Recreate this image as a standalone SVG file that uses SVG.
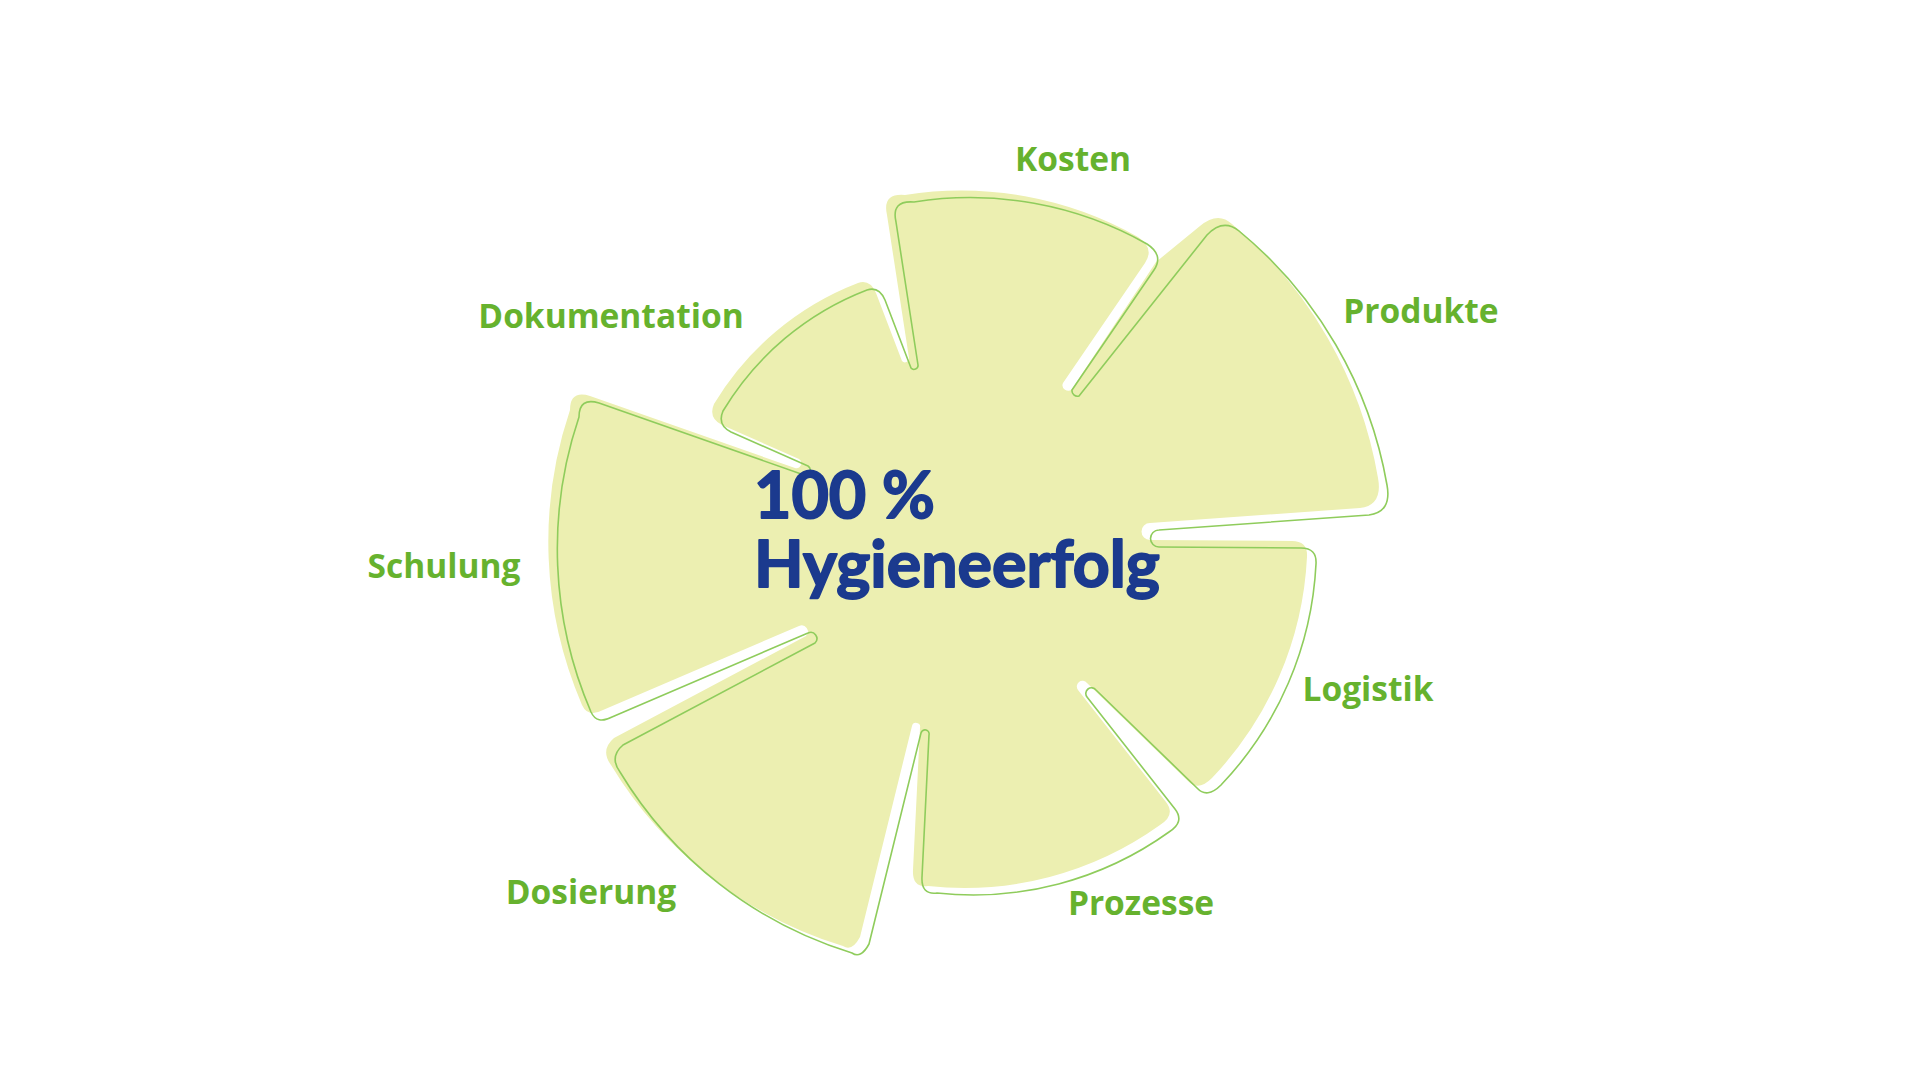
<svg xmlns="http://www.w3.org/2000/svg" xmlns:xlink="http://www.w3.org/1999/xlink" width="1920" height="1080" viewBox="0 0 1920 1080">
<style>
.petal{fill:#ecefb1;stroke:none}
.outline{fill:none;stroke:#8fcc5c;stroke-width:1.6;stroke-linejoin:round}
.lbl{font-family:"Open Sans","Liberation Sans",sans-serif;font-weight:700;font-size:33.5px;fill:#66b22e;text-anchor:middle}
.ctr{font-family:Lato,"Open Sans","Liberation Sans",sans-serif;font-weight:700;font-size:64.5px;fill:#1b3a8e;stroke:#1b3a8e;stroke-width:1.8;stroke-linejoin:round}
</style>
<rect x="0" y="0" width="1920" height="1080" fill="#ffffff"/>
<g id="flower">
<path class="petal" d="M 887,215 Q 882,193 905,195 A 360 360 0 0 1 1138,237 Q 1155,248 1145,263 L 1063,383 A 5.5 5.5 0 0 0 1072,389 L 1156,262 L 1200,226 Q 1218,211 1232,224 A 423 423 0 0 1 1378,478 Q 1383,505 1360,508 L 1150,523 A 8.5 8.5 0 0 0 1150,540 L 1292,541 Q 1308,541 1307,557 A 345 345 0 0 1 1212,778 Q 1198,792 1188,781 L 1087,683 A 5.7 5.7 0 0 0 1078,690 L 1166,802 Q 1176,815 1160,825 A 336 336 0 0 1 928,886 Q 912,888 913,870 L 920,728 A 4.1 4.1 0 0 0 912,726 L 860,937 Q 852,952 843,946 A 412 412 0 0 1 611,765 Q 600,750 614,738 L 806,636 A 6.2 6.2 0 0 0 799,626 L 603,710 Q 588,718 582,705 A 412 412 0 0 1 570,410 Q 570,390 590,396 L 795,468 A 5 5 0 0 0 799,459 L 722,425 Q 708,418 714,404 A 289 289 0 0 1 858,283 Q 870,279 876,293 L 902,361 A 4 4 0 0 0 909,358 Z"/>
<path class="outline" transform="translate(9,7)" d="M 887,215 Q 882,193 905,195 A 360 360 0 0 1 1138,237 Q 1155,248 1145,263 L 1063,383 A 5.5 5.5 0 0 0 1070,389 L 1198,228 Q 1214,211 1230,224 A 423 423 0 0 1 1378,478 Q 1383,505 1360,508 L 1150,523 A 8.5 8.5 0 0 0 1150,540 L 1292,541 Q 1308,541 1307,557 A 345 345 0 0 1 1212,778 Q 1198,792 1188,781 L 1087,683 A 5.7 5.7 0 0 0 1078,690 L 1166,802 Q 1176,815 1160,825 A 336 336 0 0 1 928,886 Q 912,888 913,870 L 920,728 A 4.1 4.1 0 0 0 912,726 L 860,937 Q 852,952 843,946 A 412 412 0 0 1 611,765 Q 600,750 614,738 L 806,636 A 6.2 6.2 0 0 0 799,626 L 603,710 Q 588,718 582,705 A 412 412 0 0 1 570,410 Q 570,390 590,396 L 795,468 A 5 5 0 0 0 799,459 L 722,425 Q 708,418 714,404 A 289 289 0 0 1 858,283 Q 870,279 876,293 L 902,361 A 4 4 0 0 0 909,358 Z"/>
</g>
<g id="center">
<text class="ctr"><tspan x="754" y="518">100 %</tspan><tspan x="754" y="587">Hygieneerfolg</tspan></text>
</g>
<g id="kosten"><text class="lbl" x="1073" y="171">Kosten</text></g>
<g id="produkte"><text class="lbl" x="1421" y="323">Produkte</text></g>
<g id="logistik"><text class="lbl" x="1368" y="701">Logistik</text></g>
<g id="prozesse"><text class="lbl" x="1141" y="915">Prozesse</text></g>
<g id="dosierung"><text class="lbl" x="591" y="904">Dosierung</text></g>
<g id="schulung"><text class="lbl" x="444" y="578">Schulung</text></g>
<g id="dokumentation"><text class="lbl" x="611" y="328">Dokumentation</text></g>
</svg>
